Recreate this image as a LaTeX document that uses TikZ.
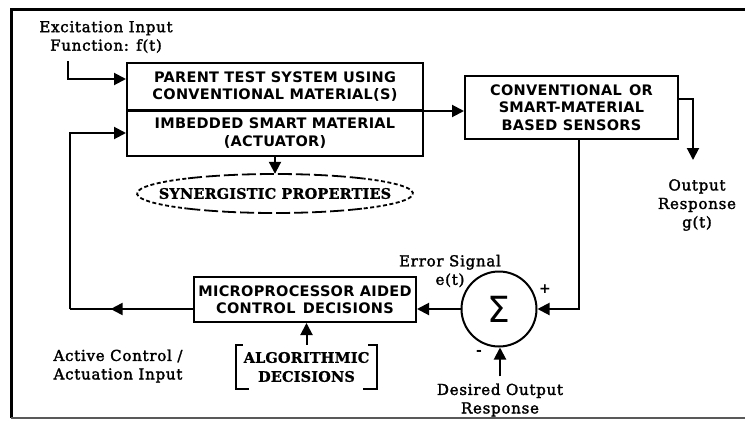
\documentclass[tikz,border=0pt]{standalone}
\usepackage{fontspec}
\usetikzlibrary{arrows.meta,shapes.geometric,calc}
\newfontfamily\bxf{DejaVu Sans}[LetterSpace=2]
\newfontfamily\srf{DejaVu Serif}[LetterSpace=5,FakeBold=2]
\newfontfamily\sbf{DejaVu Serif}[LetterSpace=1,FakeBold=1]
\newfontfamily\sgf{DejaVu Sans}
\begin{document}
\begin{tikzpicture}[x=1pt,y=-1pt,
  wire/.style={line width=2pt},
  conn/.style={wire,-{Triangle[length=12pt,width=12pt]}},
  blk/.style={draw,line width=2pt,align=center,inner sep=0pt,font=\bxf\bfseries\fontsize{14.5}{17.5}\selectfont},
  lbl/.style={align=center,inner sep=0pt,font=\srf\fontsize{15}{18.5}\selectfont},
  bsf/.style={align=center,inner sep=0pt,font=\sbf\bfseries\fontsize{14.5}{19}\selectfont},
  synlong/.style={line width=1.8pt,dash pattern=on 14pt off 4pt},
  synshort/.style={line width=1.8pt,dash pattern=on 4pt off 2.5pt},
  sgn/.style={inner sep=0pt,font=\sgf\bfseries\fontsize{14}{14}\selectfont}]
\useasboundingbox (0,0) rectangle (745,421);
% frame
\draw[line width=3pt] (745,9) -- (11,9) -- (11,418);
\draw[line width=1.5pt,black!65] (11,418) -- (745,418);
% blocks
\node[blk,minimum width=296pt,minimum height=47pt] (par) at (275,86.5) {PARENT TEST SYSTEM USING\\CONVENTIONAL MATERIAL(S)};
\node[blk,minimum width=296pt,minimum height=46pt] (imb) at (275,133) {IMBEDDED SMART MATERIAL\\(ACTUATOR)};
\node[blk,minimum width=213pt,minimum height=63pt] (sen) at (571.5,107.5) {CONVENTIONAL\enspace OR\\SMART-MATERIAL\\BASED SENSORS};
\node[blk,minimum width=222pt,minimum height=45pt] (mp) at (305,299.5) {MICROPROCESSOR AIDED\\CONTROL\enspace DECISIONS};
\node[circle,draw,line width=2pt,minimum size=75pt,inner sep=0pt,font=\sgf\fontsize{36}{36}\selectfont] (sum) at (499,309) {Σ};
\node[ellipse,inner sep=0pt,minimum width=276pt,minimum height=39pt,bsf] (syn) at (275,193.5) {SYNERGISTIC PROPERTIES};
\node[bsf,minimum width=141pt,minimum height=44pt] (alg) at (306.5,367) {ALGORITHMIC\\DECISIONS};
% ellipse outline
\draw[synlong] ([shift={(50:138pt and 19.5pt)}]syn.center) arc[start angle=50,end angle=130,x radius=138pt,y radius=19.5pt];
\draw[synshort] ([shift={(130:138pt and 19.5pt)}]syn.center) arc[start angle=130,end angle=230,x radius=138pt,y radius=19.5pt];
\draw[synlong] ([shift={(230:138pt and 19.5pt)}]syn.center) arc[start angle=230,end angle=310,x radius=138pt,y radius=19.5pt];
\draw[synshort] ([shift={(310:138pt and 19.5pt)}]syn.center) arc[start angle=310,end angle=410,x radius=138pt,y radius=19.5pt];
% brackets
\draw[wire] ([xshift=7pt]alg.north west) -- (alg.north west) -- (alg.south west) -- ([xshift=13pt]alg.south west);
\draw[wire] ([xshift=-9pt]alg.north east) -- (alg.north east) -- (alg.south east) -- ([xshift=-14pt]alg.south east);
% labels
\node[lbl] (exc) at (106,37) {Excitation Input\\Function: f(t)};
\node[lbl] (err) at (450,271) {Error Signal\\e(t)};
\node[lbl] (act) at (118,366) {Active Control /\\Actuation Input};
\node[lbl] (des) at (500,400) {Desired Output\\Response};
\node[lbl] (out) at (697,205) {Output\\Response\\g(t)};
\node[sgn] (plus) at (545,289) {+};
\node[sgn] (minus) at (479,353) {-};
% connectors
\coordinate (inTop) at (68,61);
\coordinate (inY) at (0,79);
\draw[conn] (inTop) |- (par.west |- inY);
\draw[conn] (par.south west) -- (sen.west |- par.south west);
\draw[conn] (imb.south) -- (syn.north);
\coordinate (senX) at (579,0);
\draw[conn] (senX |- sen.south) |- (sum.east);
\draw[conn] (sum.west) -- (mp.east |- sum.west);
\draw[conn] ([yshift=7pt]des.north) -- (des.north |- sum.south);
\draw[conn] (alg.north) -- (alg.north |- mp.south);
\coordinate (outY) at (0,99);
\coordinate (otip) at (693,160);
\draw[conn] (sen.east |- outY) -| (otip);
\coordinate (fbc) at (70,0);
\coordinate (fbb) at (fbc |- sum.west);
\coordinate (mpw) at (mp.west |- sum.west);
\draw[wire] (mpw) -- (fbb);
\draw[conn] (fbb) |- (imb.west);
\draw[conn] (mpw) -- ($(fbb)!0.33!(mpw)$);
\end{tikzpicture}
\end{document}
